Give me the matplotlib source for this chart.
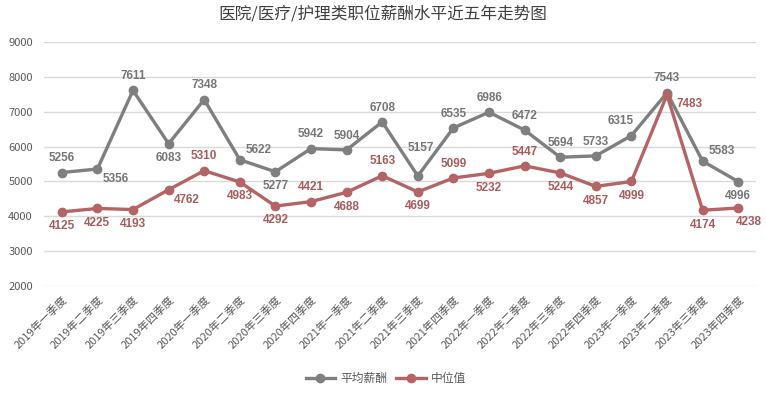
import numpy as np
import matplotlib
matplotlib.use('Agg')
import matplotlib.pyplot as plt

plt.rcParams['font.family'] = ['Noto Sans CJK SC', 'DejaVu Sans']

quarters = ['2019年一季度', '2019年二季度', '2019年三季度', '2019年四季度',
            '2020年一季度', '2020年二季度', '2020年三季度', '2020年四季度',
            '2021年一季度', '2021年二季度', '2021年三季度', '2021年四季度',
            '2022年一季度', '2022年二季度', '2022年三季度', '2022年四季度',
            '2023年一季度', '2023年二季度', '2023年三季度', '2023年四季度']
avg_salary = [5256, 5356, 7611, 6083, 7348, 5622, 5277, 5942, 5904, 6708,
              5157, 6535, 6986, 6472, 5694, 5733, 6315, 7543, 5583, 4996]
median_salary = [4125, 4225, 4193, 4762, 5310, 4983, 4292, 4421, 4688, 5163,
                 4699, 5099, 5232, 5447, 5244, 4857, 4999, 7483, 4174, 4238]

# label placement per point
avg_pos = ['u', 'dr', 'u', 'd', 'u', 'ur', 'd', 'u', 'u', 'u',
           'uu', 'u', 'u', 'u', 'u', 'u', 'ul', 'u', 'ur', 'd']
med_pos = ['d', 'd', 'd', 'dr', 'u', 'd', 'd', 'u', 'd', 'u',
           'd', 'u', 'd', 'u', 'd', 'd', 'd', 'r', 'd', 'dl0']

offsets = {'u': (0, 6, 'center', 'bottom'), 'uu': (2, 16, 'center', 'bottom'),
           'd': (0, -6, 'center', 'top'), 'r': (7, -2, 'left', 'top'),
           'ur': (4, 3, 'left', 'bottom'), 'ul': (2, 6, 'right', 'bottom'),
           'dr': (4, -3, 'left', 'top'), 'dl0': (-2, -6, 'left', 'top')}

gray = '#7F7F7F'
red = '#B46464'

fig = plt.figure(figsize=(7.66, 3.93), dpi=100)
ax = fig.add_axes([44 / 766, 1 - 286 / 393, 712 / 766, 244 / 393])

x = np.arange(len(quarters))
ax.plot(x, avg_salary, color=gray, lw=2.4, marker='o', ms=6, label='平均薪酬', zorder=3)
ax.plot(x, median_salary, color=red, lw=2.4, marker='o', ms=6, label='中位值', zorder=3)

for ys, pos, c in [(avg_salary, avg_pos, '#767676'), (median_salary, med_pos, '#A85C5C')]:
    for xi, yi, p in zip(x, ys, pos):
        dx, dy, ha, va = offsets[p]
        ax.annotate(str(yi), (xi, yi), xytext=(dx, dy), textcoords='offset points',
                    ha=ha, va=va, fontsize=8.5, fontweight='bold', color=c,
                    family=['Liberation Sans'])

ax.set_xlim(-0.5, len(quarters) - 0.5)
ax.set_ylim(2000, 9000)
ax.set_yticks(range(2000, 9001, 1000))
ax.grid(axis='y', color='#D9D9D9', lw=1)
ax.set_axisbelow(True)
for s in ax.spines.values():
    s.set_visible(False)
ax.tick_params(length=0, colors='#595959', labelsize=8)
ax.tick_params(axis='y', pad=8)
ax.set_xticks(x)
ax.set_xticklabels(quarters, rotation=45, ha='right', rotation_mode='anchor', fontsize=8)
ax.tick_params(axis='x', pad=6)

fig.suptitle('医院/医疗/护理类职位薪酬水平近五年走势图', y=0.985, fontsize=12, color='#404040')
ax.legend(loc='upper center', bbox_to_anchor=(0.48, -0.31), ncol=2, frameon=False,
          fontsize=8.5, labelcolor='#595959', handlelength=2.5, columnspacing=0.8,
          handletextpad=0.4)

fig.savefig('out.png', dpi=100)
